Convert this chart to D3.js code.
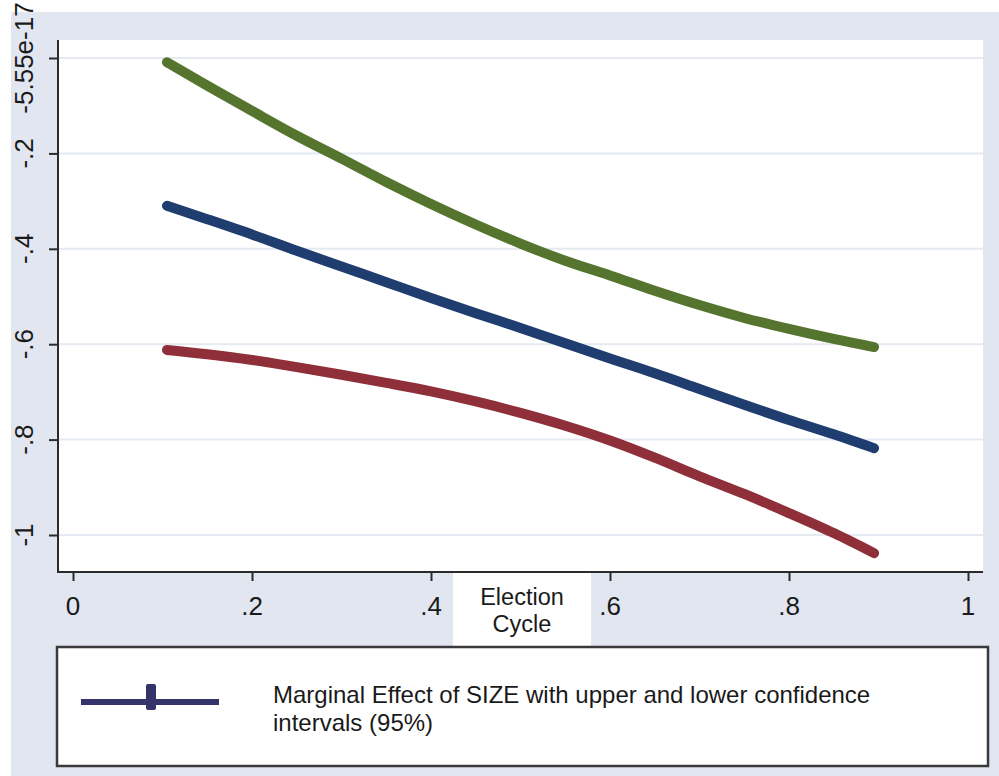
<!DOCTYPE html>
<html>
<head>
<meta charset="utf-8">
<script src="https://cdn.jsdelivr.net/npm/d3@7"></script>
<style>
  html, body { margin: 0; padding: 0; background: #ffffff; }
  svg { display: block; }
  text { font-family: "Liberation Sans", Arial, sans-serif; fill: #1a1a1a; }
</style>
</head>
<body>
<svg id="chart" width="999" height="776"></svg>
<script>
// ---- data ----
const electionCycle = [0.105, 0.15, 0.2, 0.25, 0.3, 0.35, 0.4, 0.45, 0.5, 0.55, 0.6, 0.65, 0.7, 0.75, 0.8, 0.85, 0.895];
const upperCI  = [-0.009, -0.058, -0.111, -0.163, -0.211, -0.260, -0.306, -0.349, -0.389, -0.425, -0.456, -0.488, -0.518, -0.545, -0.568, -0.589, -0.606];
const marginal = [-0.310, -0.338, -0.370, -0.404, -0.437, -0.470, -0.503, -0.535, -0.566, -0.598, -0.630, -0.661, -0.694, -0.727, -0.759, -0.789, -0.818];
const lowerCI  = [-0.612, -0.621, -0.633, -0.648, -0.664, -0.681, -0.699, -0.720, -0.744, -0.771, -0.802, -0.838, -0.877, -0.914, -0.954, -0.996, -1.038];
const xTicks = [0, 0.2, 0.4, 0.6, 0.8, 1];
const xTickLabels = ["0", ".2", ".4", ".6", ".8", "1"];
const yTicks = [0, -0.2, -0.4, -0.6, -0.8, -1];
const yTickLabels = ["-5.55e-17", "-.2", "-.4", "-.6", "-.8", "-1"];
const xTitle = ["Election", "Cycle"];
const legendText = ["Marginal Effect of SIZE with upper and lower confidence", "intervals (95%)"];

const series = [
  { name: "upper", values: upperCI, color: "#55752f" },
  { name: "marginal", values: marginal, color: "#1f3d6e" },
  { name: "lower", values: lowerCI, color: "#8e2f39" }
];

// ---- layout ----
const svg = d3.select("#chart");
const plot = { left: 58, right: 983, top: 40, bottom: 572 };

// background
svg.append("rect").attr("x", 0).attr("y", 0).attr("width", 999).attr("height", 776).attr("fill", "#ffffff");
svg.append("rect").attr("x", 11).attr("y", 12).attr("width", 988).attr("height", 764).attr("fill", "#e1e6f0");
svg.append("rect").attr("x", plot.left).attr("y", plot.top)
  .attr("width", plot.right - plot.left).attr("height", plot.bottom - plot.top).attr("fill", "#ffffff");

const x = d3.scaleLinear().domain([0, 1]).range([73, 968]);
const y = d3.scaleLinear().domain([-1, 0]).range([535, 58]);

// gridlines
svg.append("g").selectAll("line").data(yTicks).join("line")
  .attr("x1", plot.left).attr("x2", plot.right)
  .attr("y1", d => y(d)).attr("y2", d => y(d))
  .attr("stroke", "#e4e9f2").attr("stroke-width", 2);

// Y axis
const yAxis = d3.axisLeft(y).tickValues(yTicks).tickSize(9).tickFormat("");
const gy = svg.append("g").attr("transform", `translate(${plot.left},0)`).call(yAxis);
gy.select(".domain").remove();
gy.selectAll(".tick line").attr("stroke", "#2b2b2b").attr("stroke-width", 2);
svg.append("line").attr("x1", plot.left).attr("x2", plot.left)
  .attr("y1", plot.top).attr("y2", plot.bottom + 1)
  .attr("stroke", "#2b2b2b").attr("stroke-width", 2);
svg.append("g").selectAll("text").data(yTicks).join("text")
  .attr("transform", d => `translate(33,${y(d)}) rotate(-90)`)
  .attr("text-anchor", "middle")
  .attr("font-size", 26)
  .text((d, i) => yTickLabels[i]);

// X axis
const xAxis = d3.axisBottom(x).tickValues(xTicks).tickSize(9).tickFormat("");
const gx = svg.append("g").attr("transform", `translate(0,${plot.bottom})`).call(xAxis);
gx.select(".domain").remove();
gx.selectAll(".tick line").attr("stroke", "#2b2b2b").attr("stroke-width", 2);
svg.append("line").attr("x1", plot.left - 1).attr("x2", plot.right)
  .attr("y1", plot.bottom).attr("y2", plot.bottom)
  .attr("stroke", "#2b2b2b").attr("stroke-width", 2);
svg.append("g").selectAll("text").data(xTicks).join("text")
  .attr("x", d => x(d)).attr("y", 615)
  .attr("text-anchor", "middle")
  .attr("font-size", 26)
  .text((d, i) => xTickLabels[i]);

// X title box
svg.append("rect").attr("x", 453).attr("y", plot.bottom + 1).attr("width", 138).attr("height", 73).attr("fill", "#ffffff");
svg.append("g").selectAll("text").data(xTitle).join("text")
  .attr("x", 522).attr("y", (d, i) => 605 + i * 27)
  .attr("text-anchor", "middle").attr("font-size", 23.5)
  .text(d => d);

// lines
const line = d3.line()
  .x((d, i) => x(electionCycle[i]))
  .y(d => y(d))
  .curve(d3.curveMonotoneX);
svg.append("g").selectAll("path").data(series).join("path")
  .attr("d", s => line(s.values))
  .attr("fill", "none")
  .attr("stroke", s => s.color)
  .attr("stroke-width", 10)
  .attr("stroke-linecap", "round")
  .attr("stroke-linejoin", "round");

// legend
svg.append("rect").attr("x", 57).attr("y", 647).attr("width", 931).attr("height", 119)
  .attr("fill", "#ffffff").attr("stroke", "#3a3a3a").attr("stroke-width", 2.5);
svg.append("line").attr("x1", 81).attr("x2", 219).attr("y1", 702).attr("y2", 702)
  .attr("stroke", "#34346a").attr("stroke-width", 6);
svg.append("rect").attr("x", 146).attr("y", 684).attr("width", 10).attr("height", 26).attr("rx", 2)
  .attr("fill", "#34346a");
svg.append("g").selectAll("text").data(legendText).join("text")
  .attr("x", 273).attr("y", (d, i) => 703 + i * 28)
  .attr("font-size", 24)
  .text(d => d);
</script>
</body>
</html>
